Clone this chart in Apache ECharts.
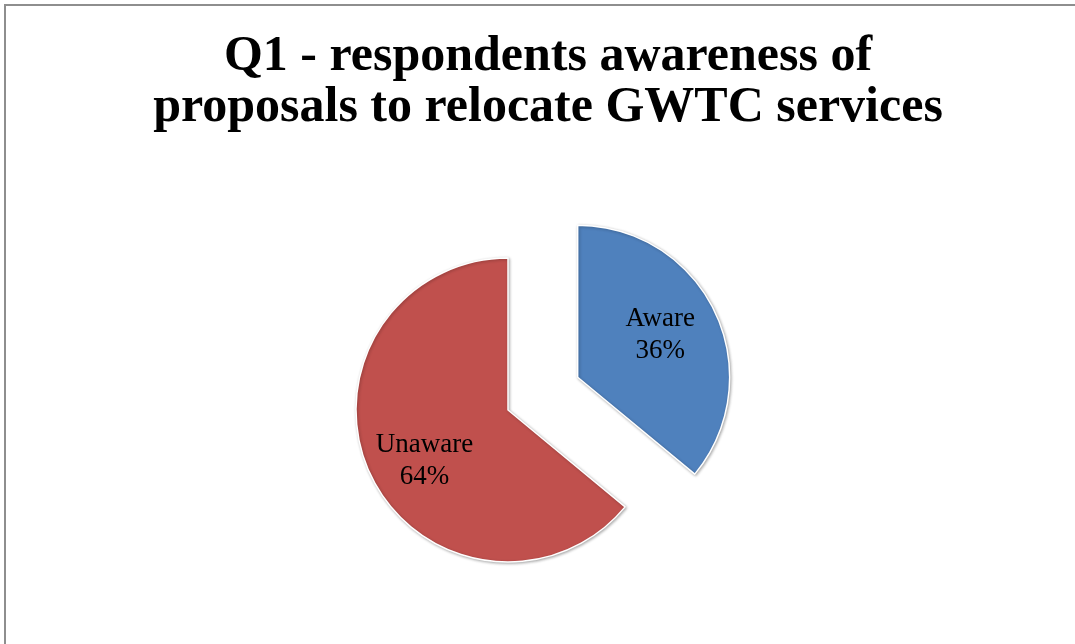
<!DOCTYPE html>
<html>
<head>
<meta charset="utf-8">
<script src="https://cdn.jsdelivr.net/npm/echarts@6/dist/echarts.min.js"></script>
<style>
  html, body { margin: 0; padding: 0; background: #fff; }
  #chart { width: 1075px; height: 644px; }
</style>
</head>
<body>
<div id="chart"></div>
<script>
// Survey answers for Q1
const categories = ['Aware', 'Unaware'];
const shares = [36, 64];
const sliceColors = ['#4F81BD', '#C0504D'];
const titleLines = ['Q1 - respondents awareness of', 'proposals to relocate GWTC services'];

// Nudges for the in-slice labels
const labelOffsets = [[11, -9], [-12, 17]];

const chart = echarts.init(document.getElementById('chart'), null, { renderer: 'canvas' });

const pieData = categories.map((name, i) => ({
  name: name,
  value: shares[i],
  selected: i === 0,
  itemStyle: { color: sliceColors[i] },
  label: { offset: labelOffsets[i] },
  select: { label: { offset: labelOffsets[i] } }
}));

chart.setOption({
  backgroundColor: '#ffffff',
  animation: false,
  title: {
    text: titleLines.join('\n'),
    left: 543,
    top: 27,
    textAlign: 'center',
    textStyle: {
      fontFamily: 'Liberation Serif',
      fontWeight: 'bold',
      fontSize: 50,
      lineHeight: 51,
      color: '#000'
    }
  },
  graphic: [{
    type: 'rect',
    shape: { x: 5, y: 5, width: 1100, height: 700 },
    style: { fill: 'none', stroke: '#8e8e8e', lineWidth: 2 },
    silent: true
  }],
  series: [{
    type: 'pie',
    center: [508, 410],
    radius: 152,
    startAngle: 90,
    clockwise: true,
    selectedMode: 'single',
    selectedOffset: 77,
    avoidLabelOverlap: false,
    itemStyle: {
      borderColor: '#ffffff',
      borderWidth: 1.5,
      shadowBlur: 3,
      shadowColor: 'rgba(0,0,0,0.3)',
      shadowOffsetX: 1,
      shadowOffsetY: 1
    },
    label: {
      show: true,
      position: 'inside',
      formatter: p => p.name + '\n' + p.value + '%',
      fontFamily: 'Liberation Serif',
      fontSize: 27,
      lineHeight: 32,
      color: '#000'
    },
    select: {
      itemStyle: { borderColor: '#ffffff', borderWidth: 1.5 },
      label: { color: '#000' }
    },
    labelLine: { show: false },
    emphasis: { disabled: true },
    data: pieData
  }]
});
</script>
</body>
</html>
